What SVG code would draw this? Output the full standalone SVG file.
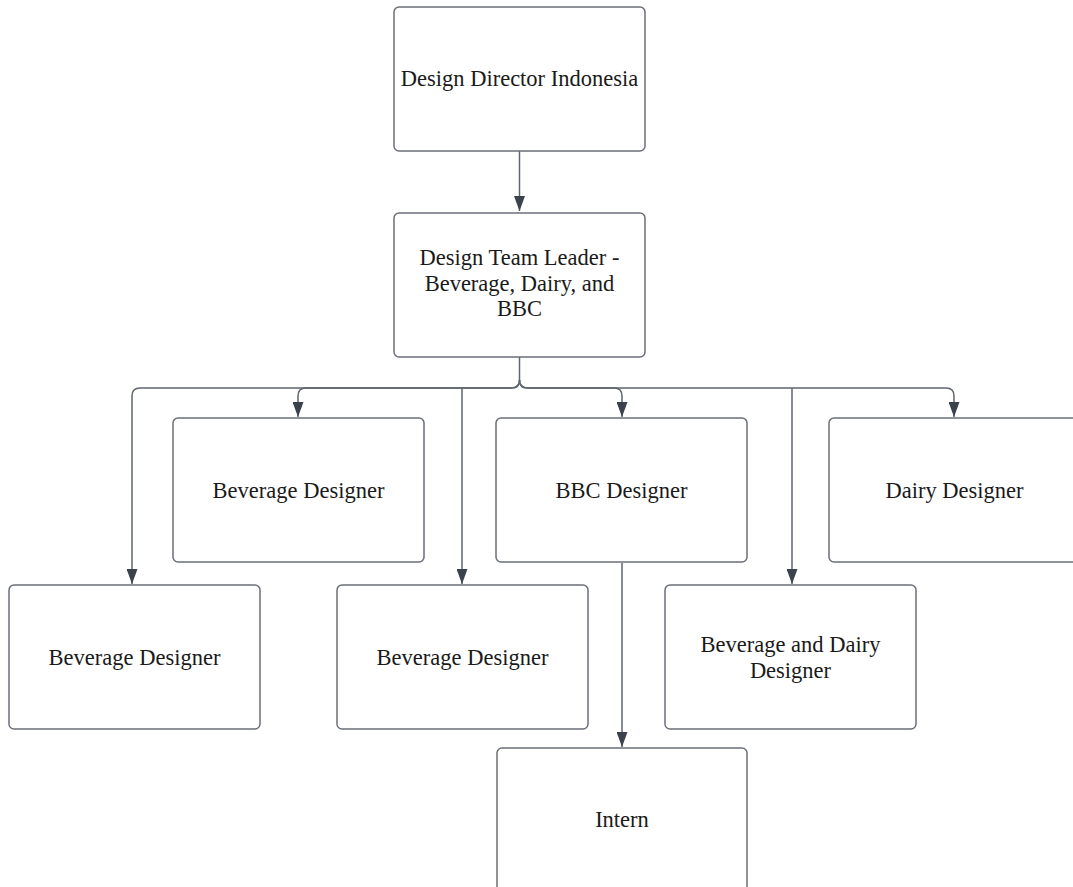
<svg xmlns="http://www.w3.org/2000/svg" width="1073" height="887" viewBox="0 0 1073 887">
<defs>
<style>
.box{fill:#ffffff;stroke:#6b7078;stroke-width:1.5}
.lbl{font-family:"Liberation Serif","Times New Roman",serif;font-size:22.5px;fill:#1a1a1a;text-anchor:middle}
.con{fill:none;stroke:#5f6670;stroke-width:1.5}
</style>
<marker id="arr" markerWidth="15" markerHeight="11" viewBox="0 0 15 11" refX="15" refY="5.5" orient="auto" markerUnits="userSpaceOnUse">
<path d="M0,0 L15,5.5 L0,11 Z" fill="#3b424c"/>
</marker>
</defs>
<rect width="1073" height="887" fill="#ffffff"/>
<g id="connectors">
<path class="con" d="M519.5,151 V211" marker-end="url(#arr)"/>
<path class="con" d="M519.5,357 V380 Q519.5,388 511.5,388 H140 Q132,388 132,396 V584" marker-end="url(#arr)"/>
<path class="con" d="M519.5,380 Q519.5,388 511.5,388 H306 Q298,388 298,396 V417" marker-end="url(#arr)"/>
<path class="con" d="M462,388 V584" marker-end="url(#arr)"/>
<path class="con" d="M519.5,380 Q519.5,388 527.5,388 H614 Q622,388 622,396 V417" marker-end="url(#arr)"/>
<path class="con" d="M792,388 V584" marker-end="url(#arr)"/>
<path class="con" d="M519.5,380 Q519.5,388 527.5,388 H946 Q954,388 954,396 V417" marker-end="url(#arr)"/>
<path class="con" d="M622,563 V747" marker-end="url(#arr)"/>
</g>
<g id="n-director">
<rect class="box" x="394" y="7" width="251" height="144" rx="5"/>
<text class="lbl" x="519.5" y="86">Design Director Indonesia</text>
</g>
<g id="n-leader">
<rect class="box" x="394" y="213" width="251" height="144" rx="5"/>
<text class="lbl" x="519.5" y="265">Design Team Leader -</text>
<text class="lbl" x="519.5" y="290.5">Beverage, Dairy, and</text>
<text class="lbl" x="519.5" y="316">BBC</text>
</g>
<g id="n-bev2">
<rect class="box" x="173" y="418" width="251" height="144" rx="5"/>
<text class="lbl" x="298.5" y="498">Beverage Designer</text>
</g>
<g id="n-bbc">
<rect class="box" x="496" y="418" width="251" height="144" rx="5"/>
<text class="lbl" x="621.5" y="498">BBC Designer</text>
</g>
<g id="n-dairy">
<rect class="box" x="829" y="418" width="260" height="144" rx="5"/>
<text class="lbl" x="954.5" y="498">Dairy Designer</text>
</g>
<g id="n-bev1">
<rect class="box" x="9" y="585" width="251" height="144" rx="5"/>
<text class="lbl" x="134.5" y="665">Beverage Designer</text>
</g>
<g id="n-bev3">
<rect class="box" x="337" y="585" width="251" height="144" rx="5"/>
<text class="lbl" x="462.5" y="665">Beverage Designer</text>
</g>
<g id="n-bevdairy">
<rect class="box" x="665" y="585" width="251" height="144" rx="5"/>
<text class="lbl" x="790.5" y="652">Beverage and Dairy</text>
<text class="lbl" x="790.5" y="677.5">Designer</text>
</g>
<g id="n-intern">
<rect class="box" x="497" y="748" width="250" height="150" rx="5"/>
<text class="lbl" x="622" y="827">Intern</text>
</g>
</svg>
